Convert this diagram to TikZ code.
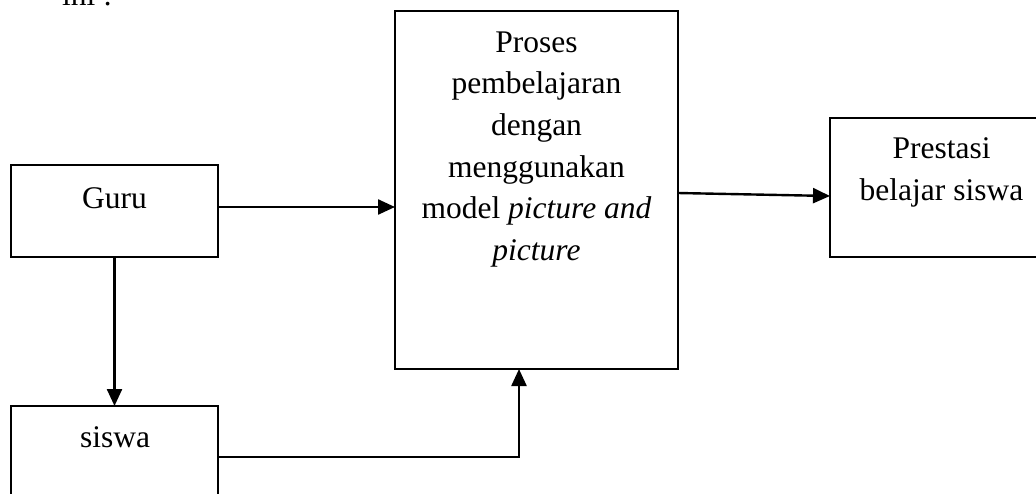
\documentclass[tikz,border=0pt]{standalone}
\usepackage{fontspec}
\setmainfont{Liberation Serif}
\usetikzlibrary{arrows.meta}
\begin{document}
\begin{tikzpicture}[x=1pt,y=-1pt,
  box/.style={draw,line width=2.4pt,rectangle,inner sep=0pt,outer sep=0pt},
  txt/.style={font=\fontsize{31.5}{41.7}\selectfont,inner sep=0pt,anchor=base,align=center},
  arr/.style={line width=2.4pt,-{Triangle[length=17pt,width=15pt]}}]
\useasboundingbox (0,0) rectangle (1036,493);
\clip (0,0) rectangle (1036,493);
\node[txt,anchor=base west] (ini) at (62,5) {ini :};
\node[box,minimum width=207pt,minimum height=92pt] (guru) at (114.5,211) {};
\node[box,minimum width=207pt,minimum height=92pt] (siswa) at (114.5,452) {};
\node[box,minimum width=283pt,minimum height=358pt] (proc) at (536.5,190) {};
\node[box,minimum width=223pt,minimum height=139pt] (pres) at (941.5,187.5) {};
\node[txt] (tguru) at (114.5,208) {Guru};
\node[txt] (tsiswa) at (115,447) {siswa};
\node[txt] (tproc) at (536.5,260.5) {Proses\\pembelajaran\\dengan\\menggunakan\\model \textit{picture and}\\\textit{picture}};
\node[txt] (tpres) at (941.5,200) {Prestasi\\belajar siswa};
\coordinate (g1) at (0,207);
\coordinate (s1) at (0,457);
\coordinate (s2) at (519,0);
\coordinate (p1) at (0,193);
\coordinate (p2) at (0,196);
\draw[arr] (guru.east |- g1) -- (proc.west |- g1);
\draw[arr] (guru.south) -- (siswa.north);
\draw[arr] (siswa.east |- s1) -| (proc.south -| s2);
\draw[arr] (proc.east |- p1) -- (pres.west |- p2);
\end{tikzpicture}
\end{document}
